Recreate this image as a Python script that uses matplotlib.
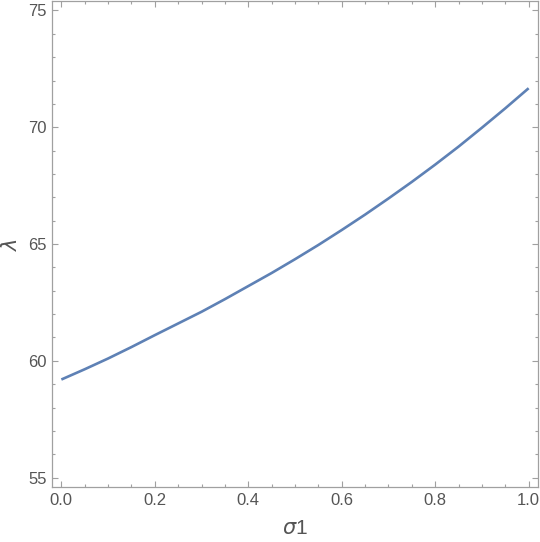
import matplotlib
matplotlib.use("Agg")
import matplotlib.pyplot as plt
from matplotlib.ticker import MultipleLocator, FormatStrFormatter

sigma1 = [0.0, 0.05, 0.1, 0.15, 0.2, 0.25, 0.3, 0.35, 0.4, 0.45, 0.5,
          0.55, 0.6, 0.65, 0.7, 0.75, 0.8, 0.85, 0.9, 0.95, 1.0]
lam = [59.20, 59.64, 60.10, 60.59, 61.10, 61.60, 62.10, 62.64, 63.20, 63.76, 64.35,
       64.96, 65.60, 66.26, 66.95, 67.66, 68.40, 69.17, 69.98, 70.81, 71.67]

plt.rcParams['font.family'] = ['Liberation Sans', 'DejaVu Sans']

fig = plt.figure(figsize=(5.40, 5.42), dpi=100)
ax = fig.add_axes([0.0963, 0.1015, 0.9, 0.8965])
ax.plot(sigma1, lam, color='#5E81B5', lw=1.9, solid_capstyle='butt')

ax.set_xlim(-0.02, 1.02)
ax.set_ylim(54.6, 75.4)
ax.xaxis.set_major_locator(MultipleLocator(0.2))
ax.xaxis.set_minor_locator(MultipleLocator(0.05))
ax.yaxis.set_major_locator(MultipleLocator(5))
ax.yaxis.set_minor_locator(MultipleLocator(1))
ax.xaxis.set_major_formatter(FormatStrFormatter('%.1f'))

for s in ax.spines.values():
    s.set_color('#a0a0a0')
    s.set_linewidth(0.9)
ax.tick_params(which='both', direction='in', top=True, right=True, color='#a0a0a0', width=0.8)
ax.tick_params(which='major', length=4, labelsize=12, labelcolor='#555555', pad=4)
ax.tick_params(which='minor', length=2.2)

ax.set_xlabel(r'$\sigma$1', fontsize=15, color='#555555', va='center')
ax.set_ylabel(r'$\lambda$', fontsize=15, color='#555555', va='center')
ax.xaxis.set_label_coords(0.5, -0.086)
ax.yaxis.set_label_coords(-0.084, 0.5)

fig.savefig('out.png', dpi=100)
